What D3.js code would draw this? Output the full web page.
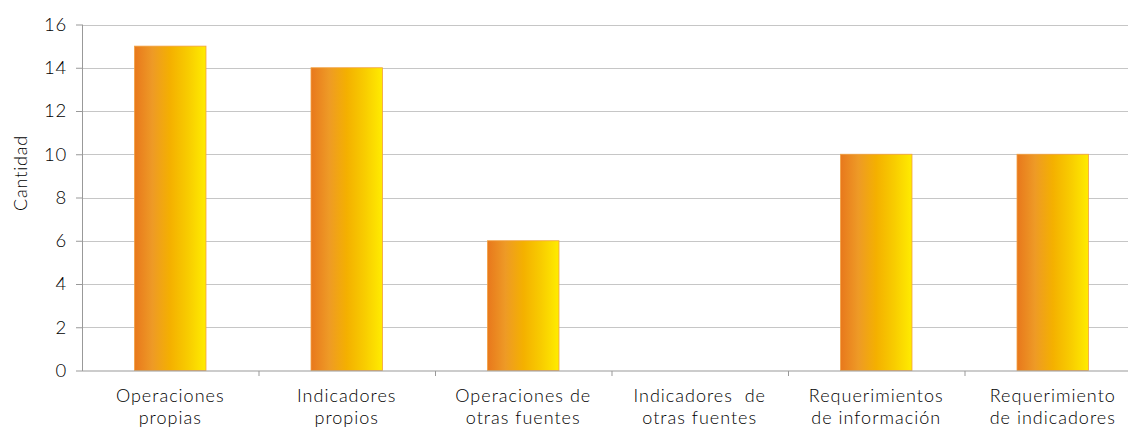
<!DOCTYPE html>
<html><head><meta charset="utf-8">
<script src="https://cdn.jsdelivr.net/npm/d3@7"></script>
<style>body{margin:0;background:#fff}svg{display:block}</style>
</head><body>
<script>
const categories = [["Operaciones","propias"],["Indicadores","propios"],["Operaciones de","otras fuentes"],["Indicadores  de","otras fuentes"],["Requerimientos","de información"],["Requerimiento","de indicadores"]];
const values = [15,14,6,0,10,10];
const yTicks = [0,2,4,6,8,10,12,14,16];
const yTitle = "Cantidad";

const W=1128,H=429;
const svg=d3.select("body").append("svg").attr("width",W).attr("height",H);
const font="'Century Gothic','URW Gothic','Lato',sans-serif";
const defs=svg.append("defs");
const g=defs.append("linearGradient").attr("id","bg").attr("x1","0").attr("x2","1").attr("y1","0").attr("y2","0");
g.append("stop").attr("offset","0").attr("stop-color","#E8781C");
g.append("stop").attr("offset","0.25").attr("stop-color","#EE9A26");
g.append("stop").attr("offset","0.5").attr("stop-color","#F4B000");
g.append("stop").attr("offset","0.75").attr("stop-color","#F8CC00");
g.append("stop").attr("offset","1").attr("stop-color","#FFEC00");

const x=d3.scaleBand().domain(d3.range(categories.length)).range([82,1141]).padding(0);
const y=d3.scaleLinear().domain([0,16]).range([370.5,24.5]);

// gridlines
svg.append("g").selectAll("line").data(yTicks.filter(d=>d>0)).join("line")
 .attr("x1",82).attr("x2",W).attr("y1",d=>Math.round(y(d))+0.5).attr("y2",d=>Math.round(y(d))+0.5)
 .attr("stroke","#c6c6c6").attr("stroke-width",1.2);

// bars
const bw=x.bandwidth()*0.405;
svg.append("g").selectAll("rect").data(values).join("rect")
 .attr("x",(d,i)=>x(i)+x.bandwidth()/2-bw/2).attr("width",bw)
 .attr("y",d=>y(d)).attr("height",d=>y(0)-y(d))
 .attr("fill","url(#bg)").attr("stroke",d=>d>0?"#F2A040":"none").attr("stroke-width",0.8);

// y axis
const ya=svg.append("g").attr("transform","translate(82,0)").call(d3.axisLeft(y).tickValues(yTicks).tickSize(6).tickPadding(9));
ya.select(".domain").attr("stroke","#999").attr("d","M0.5,24.5V371");
ya.selectAll(".tick line").attr("stroke","#999");
ya.selectAll(".tick text").attr("font-family",font).attr("font-weight",300).attr("font-size","18.5px").attr("letter-spacing","0.8px").attr("fill","#000");

// x axis
svg.append("line").attr("x1",82).attr("x2",W).attr("y1",371).attr("y2",371).attr("stroke","#999").attr("stroke-width",1.2);
svg.append("g").selectAll("line").data(d3.range(1,categories.length)).join("line")
 .attr("x1",i=>x(i)+0.5).attr("x2",i=>x(i)+0.5).attr("y1",371).attr("y2",376).attr("stroke","#999");

const lab=svg.append("g").selectAll("text").data(categories).join("text")
 .attr("x",(d,i)=>x(i)+x.bandwidth()/2).attr("y",402)
 .attr("text-anchor","middle").attr("font-family",font).attr("font-weight",300).attr("font-size","18px").attr("letter-spacing","1px").attr("fill","#000");
lab.each(function(d){
 const t=d3.select(this);
 d.forEach((s,k)=>t.append("tspan").attr("x",t.attr("x")).attr("dy",k?22:0).attr("xml:space","preserve").text(s));
});

svg.append("text").attr("transform","translate(27,173) rotate(-90)").attr("text-anchor","middle")
 .attr("font-family",font).attr("font-weight",300).attr("font-size","18px").attr("letter-spacing","0.8px").attr("fill","#000").text(yTitle);
</script>
</body></html>
